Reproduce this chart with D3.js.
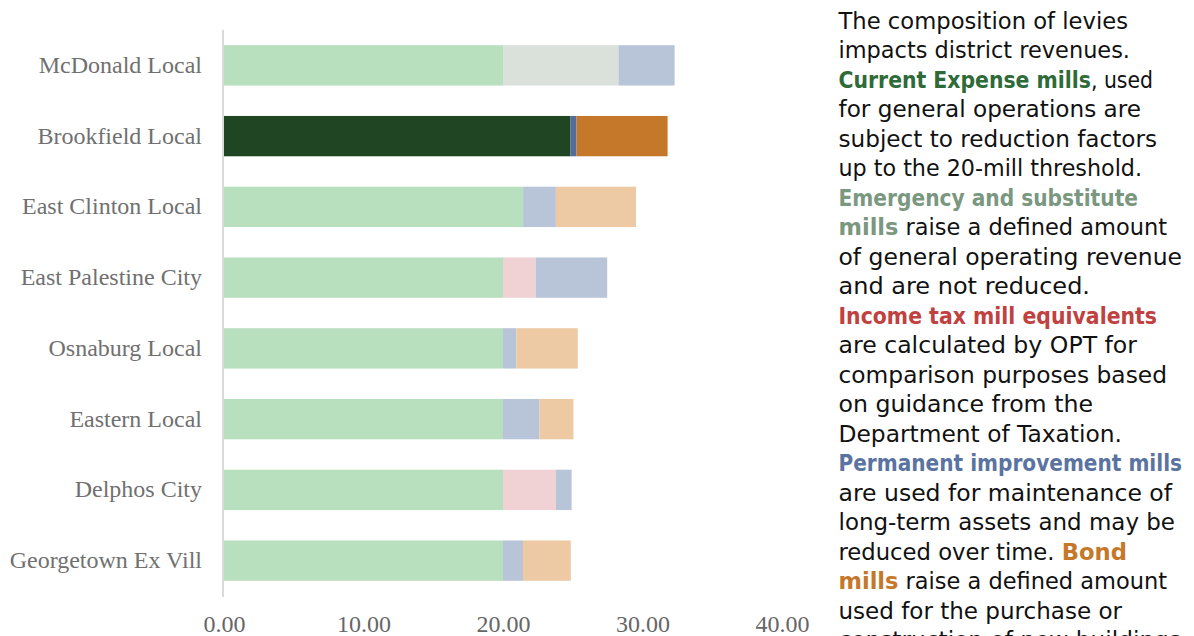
<!DOCTYPE html>
<html>
<head>
<meta charset="utf-8">
<script src="https://cdn.jsdelivr.net/npm/d3@7"></script>
<style>
  body { margin: 0; background: #fff; }
  svg { display: block; }
</style>
</head>
<body>
<svg id="chart" width="1194" height="636"></svg>
<script>
// districts, top to bottom
const districts = ["McDonald Local", "Brookfield Local", "East Clinton Local", "East Palestine City",
    "Osnaburg Local", "Eastern Local", "Delphos City", "Georgetown Ex Vill"];
const highlight = "Brookfield Local";

// mills by levy type
const currentExpense = [20.0, 24.84, 21.44, 20.0, 20.0, 20.0, 20.0, 20.0];
const emergency      = [8.28, 0, 0, 0, 0, 0, 0, 0];
const incomeTax      = [0, 0, 0, 2.35, 0, 0, 3.79, 0];
const permImprove    = [4.02, 0.43, 2.35, 5.12, 0.96, 2.61, 1.13, 1.43];
const bond           = [0, 6.53, 5.74, 0, 4.40, 2.44, 0, 3.43];

const xTicks = [0, 10, 20, 30, 40];

const keys = ["currentExpense", "emergency", "incomeTax", "permImprove", "bond"];
const lightColors = ["#b8dfbe", "#dae0da", "#f0d2d4", "#b8c4d8", "#edc9a4"];
const darkColors  = ["#204523", "#8aa08e", "#c0413f", "#536d9a", "#c6782a"];

const rows = districts.map((d, i) => ({
    district: d,
    currentExpense: currentExpense[i],
    emergency: emergency[i],
    incomeTax: incomeTax[i],
    permImprove: permImprove[i],
    bond: bond[i]
}));

const svg = d3.select("#chart");

const x = d3.scaleLinear().domain([0, 40]).range([224, 782]);
const y = d3.scaleBand().domain(districts).range([30, 596]).paddingInner(0.43).paddingOuter(0.215);

const series = d3.stack().keys(keys)(rows);

series.forEach((s, k) => {
    svg.append("g").selectAll("rect")
        .data(s)
        .join("rect")
        .attr("x", d => x(d[0]))
        .attr("y", d => y(d.data.district))
        .attr("width", d => x(d[1]) - x(d[0]))
        .attr("height", y.bandwidth())
        .attr("fill", d => d.data.district === highlight ? darkColors[k] : lightColors[k]);
});

// vertical axis line
svg.append("line")
    .attr("x1", 223).attr("x2", 223)
    .attr("y1", 30).attr("y2", 597)
    .attr("stroke", "#d9d9d9")
    .attr("stroke-width", 2);

// category labels
svg.append("g").selectAll("text")
    .data(districts)
    .join("text")
    .attr("x", 202)
    .attr("y", d => y(d) + y.bandwidth() / 2 + 7.5)
    .attr("text-anchor", "end")
    .attr("font-family", "'Liberation Serif', 'Times New Roman', serif")
    .attr("font-size", 24)
    .attr("fill", "#707070")
    .text(d => d);

// x tick labels
const xAxis = d3.axisBottom(x).tickValues(xTicks).tickFormat(d3.format(".2f")).tickSize(0).tickPadding(0);
const gx = svg.append("g")
    .attr("transform", "translate(0,632)")
    .call(xAxis);
gx.select(".domain").remove();
gx.selectAll("text")
    .attr("font-family", "'Liberation Serif', 'Times New Roman', serif")
    .attr("font-size", 24)
    .attr("fill", "#666")
    .attr("y", 0)
    .attr("dy", 0);

// explanatory text, one entry per line: [segments], right edge
const bodyColor = "#111";
const textLines = [
    [[["The composition of levies", null]], 1128],
    [[["impacts district revenues.", null]], 1130],
    [[["Current Expense mills", "#2e6b38"], [", used", null]], 1153],
    [[["for general operations are", null]], 1141],
    [[["subject to reduction factors", null]], 1157],
    [[["up to the 20-mill threshold.", null]], 1142],
    [[["Emergency and substitute", "#7a977f"]], 1138],
    [[["mills", "#7a977f"], [" raise a defined amount", null]], 1167],
    [[["of general operating revenue", null]], 1182],
    [[["and are not reduced.", null]], 1090],
    [[["Income tax mill equivalents", "#c0413f"]], 1157],
    [[["are calculated by OPT for", null]], 1137],
    [[["comparison purposes based", null]], 1167],
    [[["on guidance from the", null]], 1093],
    [[["Department of Taxation.", null]], 1122],
    [[["Permanent improvement mills", "#5a73a1"]], 1182],
    [[["are used for maintenance of", null]], 1172],
    [[["long-term assets and may be", null]], 1175],
    [[["reduced over time. ", null], ["Bond", "#c6782a"]], 1127],
    [[["mills", "#c6782a"], [" raise a defined amount", null]], 1167],
    [[["used for the purchase or", null]], 1122],
    [[["construction of new buildings", null]], 1181]
];

const textLeft = 838.5;
const tg = svg.append("g")
    .attr("font-family", "'DejaVu Sans', sans-serif")
    .attr("font-size", 23);

textLines.forEach((line, i) => {
    const t = tg.append("text")
        .attr("x", textLeft)
        .attr("y", 28.5 + i * 29.5)
        .attr("textLength", line[1] - textLeft)
        .attr("lengthAdjust", "spacingAndGlyphs");
    line[0].forEach(seg => {
        t.append("tspan")
            .attr("fill", seg[1] || bodyColor)
            .attr("font-weight", seg[1] ? "bold" : "normal")
            .text(seg[0]);
    });
});
</script>
</body>
</html>
